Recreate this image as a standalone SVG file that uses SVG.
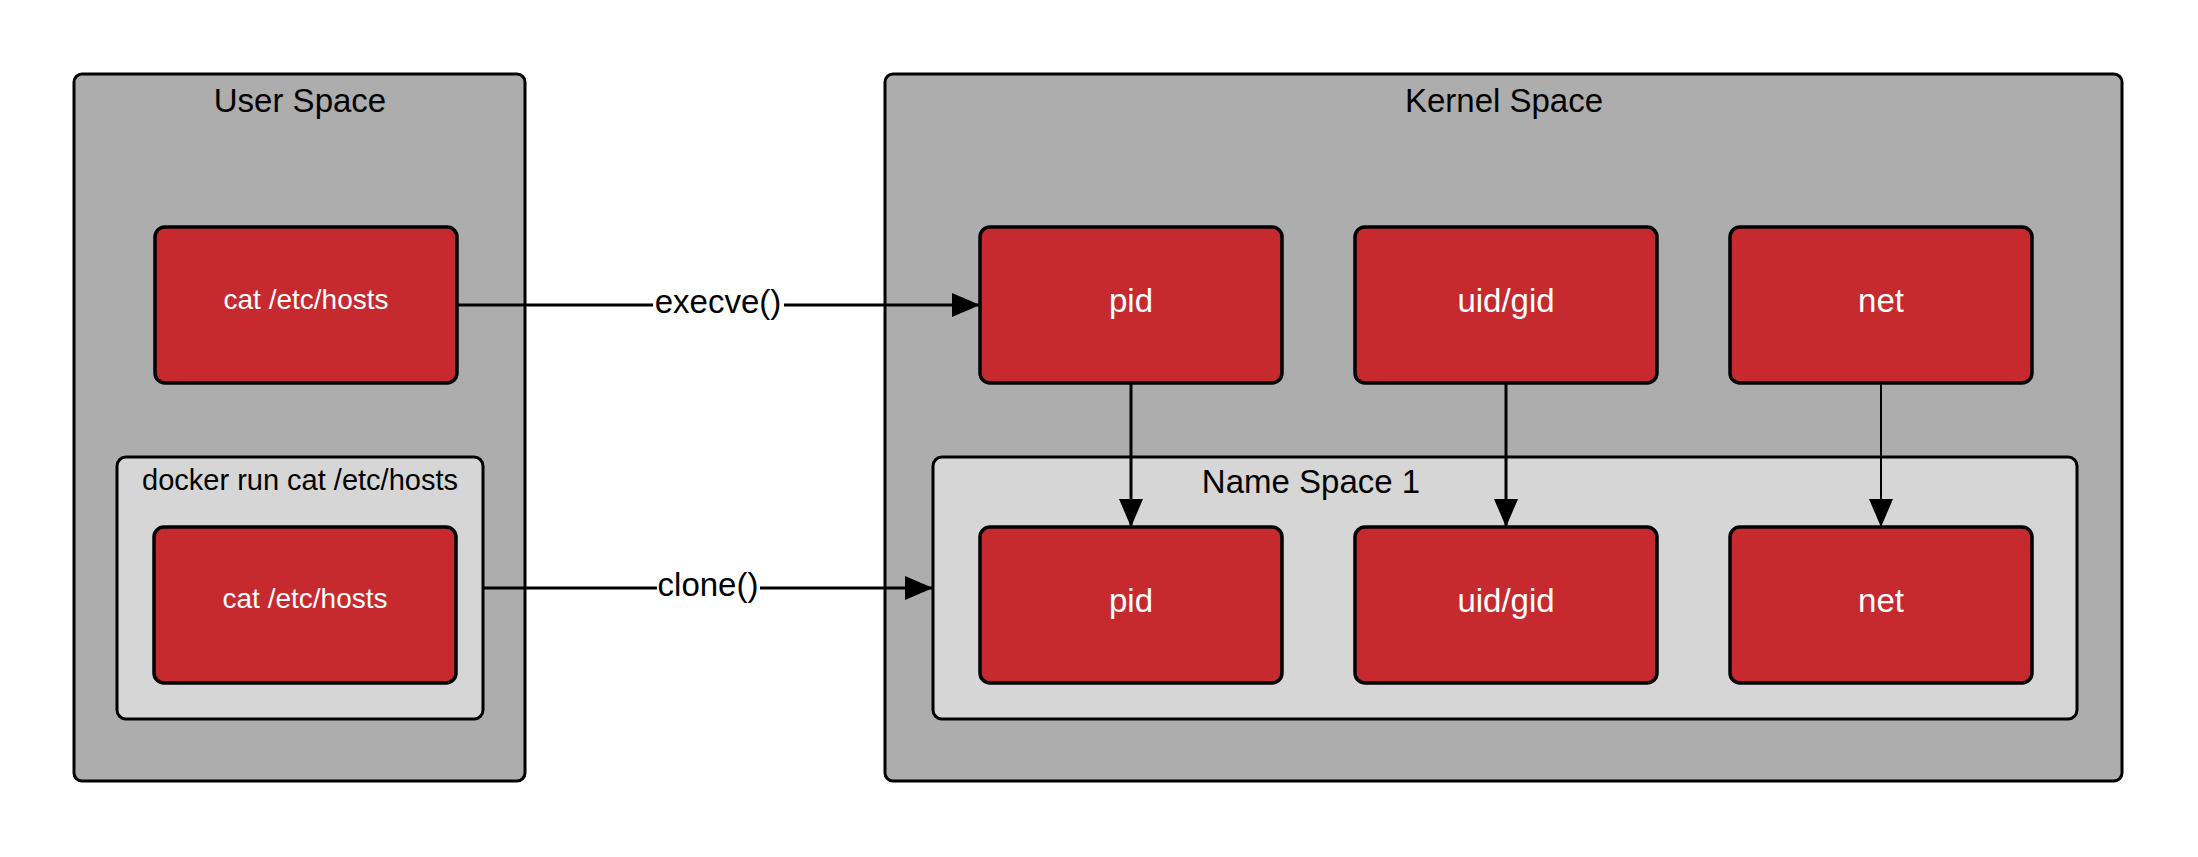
<svg xmlns="http://www.w3.org/2000/svg" width="2198" height="857" viewBox="0 0 2198 857">
<style>
text{font-family:"Liberation Sans",Arial,sans-serif;text-anchor:middle}
.outer{fill:#adadad;stroke:#000;stroke-width:3}
.inner{fill:#d6d6d6;stroke:#000;stroke-width:3}
.red{fill:#c62a2f;stroke:#000;stroke-width:3.5}
.title{font-size:33px;fill:#000}
.wt{font-size:33px;fill:#fff}
.ct{font-size:28px;fill:#fff}
.lbl{font-size:33px;fill:#000}
.ln{stroke:#000;stroke-width:3;fill:none}
</style>
<defs>
<marker id="ah" markerWidth="28" markerHeight="24" refX="28" refY="12" orient="auto" markerUnits="userSpaceOnUse">
<path d="M0,0 L28,12 L0,24 Z" fill="#000"/>
</marker>
</defs>
<rect width="2198" height="857" fill="#fff"/>
<g id="user-space">
<rect class="outer" x="74" y="74" width="451" height="707" rx="8"/>
<text class="title" x="300" y="112">User Space</text>
</g>
<g id="cat-top">
<rect class="red" x="155" y="227" width="302" height="156" rx="10"/>
<text class="ct" x="306" y="309">cat /etc/hosts</text>
</g>
<g id="docker-run">
<rect class="inner" x="117" y="457" width="366" height="262" rx="9"/>
<text class="ct" x="300" y="490" style="fill:#000;font-size:29px">docker run cat /etc/hosts</text>
</g>
<g id="cat-docker">
<rect class="red" x="154" y="527" width="302" height="156" rx="10"/>
<text class="ct" x="305" y="608">cat /etc/hosts</text>
</g>
<g id="kernel-space">
<rect class="outer" x="885" y="74" width="1237" height="707" rx="8"/>
<text class="title" x="1504" y="112">Kernel Space</text>
</g>
<g id="pid-top">
<rect class="red" x="980" y="227" width="302" height="156" rx="10"/>
<text class="wt" x="1131" y="312">pid</text>
</g>
<g id="uidgid-top">
<rect class="red" x="1355" y="227" width="302" height="156" rx="10"/>
<text class="wt" x="1506" y="312">uid/gid</text>
</g>
<g id="net-top">
<rect class="red" x="1730" y="227" width="302" height="156" rx="10"/>
<text class="wt" x="1881" y="312">net</text>
</g>
<g id="namespace1">
<rect class="inner" x="933" y="457" width="1144" height="262" rx="9"/>
<text class="title" x="1311" y="493">Name Space 1</text>
</g>
<g id="pid-ns">
<rect class="red" x="980" y="527" width="302" height="156" rx="10"/>
<text class="wt" x="1131" y="612">pid</text>
</g>
<g id="uidgid-ns">
<rect class="red" x="1355" y="527" width="302" height="156" rx="10"/>
<text class="wt" x="1506" y="612">uid/gid</text>
</g>
<g id="net-ns">
<rect class="red" x="1730" y="527" width="302" height="156" rx="10"/>
<text class="wt" x="1881" y="612">net</text>
</g>
<g id="connectors">
<path class="ln" d="M457,305 L653,305"/>
<path class="ln" d="M784,305 L980,305" marker-end="url(#ah)"/>
<text class="lbl" x="718" y="313">execve()</text>
<path class="ln" d="M483,588 L657,588"/>
<path class="ln" d="M760,588 L933,588" marker-end="url(#ah)"/>
<text class="lbl" x="708" y="596">clone()</text>
<path class="ln" d="M1131,383 L1131,527" marker-end="url(#ah)"/>
<path class="ln" d="M1506,383 L1506,527" marker-end="url(#ah)"/>
<path class="ln" d="M1881,383 L1881,527" style="stroke-width:2" marker-end="url(#ah)"/>
</g>
</svg>
